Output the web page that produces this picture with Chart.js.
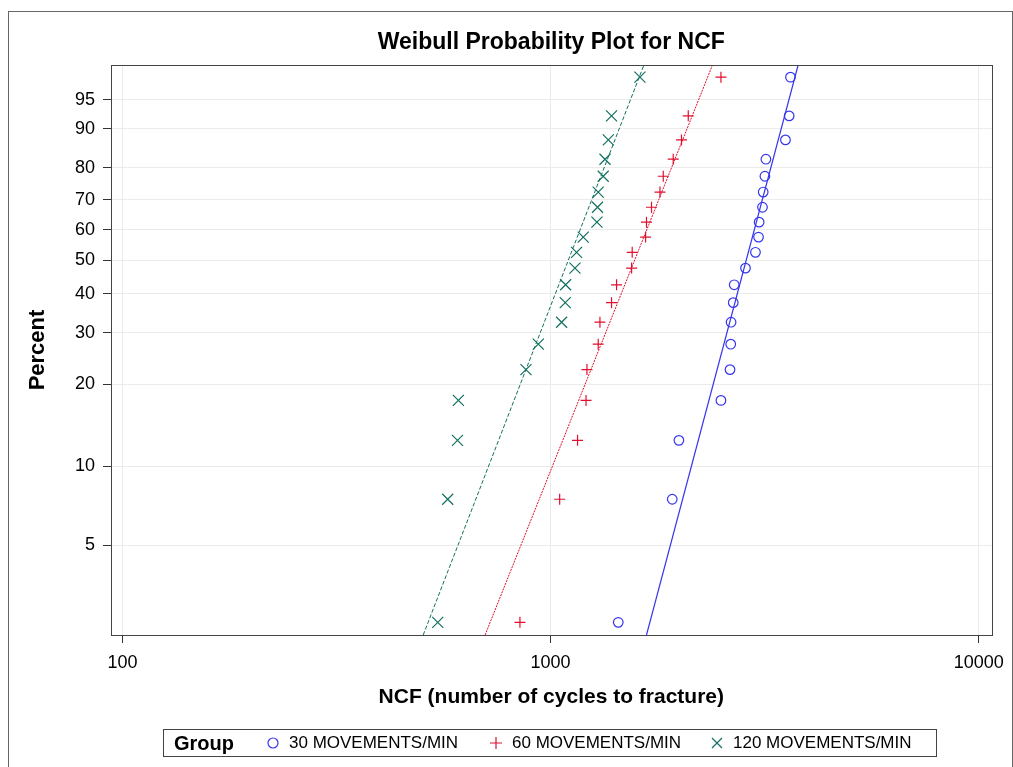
<!DOCTYPE html>
<html>
<head>
<meta charset="utf-8">
<script src="https://cdn.jsdelivr.net/npm/chart.js@4.4.1/dist/chart.umd.min.js"></script>
<style>
	body { margin: 0; background: #fff; font-family: "Liberation Sans", Arial, sans-serif; }
	#wrap { position: relative; width: 1013px; height: 767px; overflow: hidden; }
	#frame { position: absolute; left: 8px; top: 11px; width: 1003px; height: 800px;
		border-left: 1px solid #666; border-top: 1px solid #666; border-right: 1px solid #666; }
	canvas { position: absolute; left: 0; top: 0; }
	#legend { position: absolute; left: 163px; top: 729px; width: 772px; height: 26px;
		border: 1px solid #444; font-size: 17px; color: #000; }
	#legend span, #legend svg { position: absolute; top: 3px; }
	#legend .title { font-weight: bold; font-size: 20px; top: 2px; }
</style>
</head>
<body>
<div id="wrap">
	<div id="frame"></div>
	<canvas id="weibull" width="1013" height="767"></canvas>
	<div id="legend"></div>
</div>
<script>
	// Plotting positions (percent) shared by all three groups
	var percents = [2.5, 7.5, 12.5, 17.5, 22.5, 27.5, 32.5, 37.5, 42.5, 47.5,
		52.5, 57.5, 62.5, 67.5, 72.5, 77.5, 82.5, 87.5, 92.5, 97.5];

	// NCF values
	var ncf30 = [1439, 1924, 1994, 2500, 2625, 2635, 2640, 2671, 2685, 2853,
		3010, 3060, 3070, 3126, 3138, 3167, 3184, 3537, 3608, 3634];
	var ncf60 = [848, 1050, 1156, 1210, 1216, 1292, 1304, 1388, 1426, 1546,
		1551, 1667, 1675, 1721, 1801, 1833, 1934, 2022, 2097, 2500];
	var ncf120 = [545, 575, 606, 609, 876, 936, 1061, 1082, 1084, 1140,
		1150, 1192, 1283, 1287, 1292, 1327, 1340, 1364, 1388, 1617];

	// Fitted lines: NCF at the bottom and top of the percent axis
	var fitPct = [2.23, 98.38];
	var fit30 = [1675, 3787];
	var fit60 = [703, 2389];
	var fit120 = [504, 1652];

	var groupNames = ['30 MOVEMENTS/MIN', '60 MOVEMENTS/MIN', '120 MOVEMENTS/MIN'];
	var percentTicks = [5, 10, 20, 30, 40, 50, 60, 70, 80, 90, 95];
	var xTicks = [100, 1000, 10000];

	var FONT = '"Liberation Sans", Arial, sans-serif';
	var BLUE = '#3535ee', RED = '#e0102e', GREEN = '#117060';

	// Weibull probability transform
	function weib(p) { return Math.log(-Math.log(1 - p / 100)); }

	function points(xs, ps) {
		return xs.map(function(x, i) { return {x: x, y: weib(ps[i])}; });
	}

	// Frame round the plot area and title centred over it
	var framePlugin = {
		id: 'frame',
		afterDraw: function(chart) {
			var a = chart.chartArea, ctx = chart.ctx;
			ctx.save();
			ctx.strokeStyle = '#444';
			ctx.lineWidth = 1;
			ctx.strokeRect(Math.round(a.left) + 0.5, Math.round(a.top) + 0.5,
				Math.round(a.right - a.left), Math.round(a.bottom - a.top));
			ctx.fillStyle = '#000';
			ctx.font = 'bold 23px ' + FONT;
			ctx.textAlign = 'center';
			ctx.textBaseline = 'middle';
			ctx.fillText('Weibull Probability Plot for NCF', (a.left + a.right) / 2, 43);
			ctx.restore();
		}
	};

	new Chart(document.getElementById('weibull'), {
		type: 'scatter',
		data: {
			datasets: [{
				label: groupNames[0],
				data: points(ncf30, percents),
				pointStyle: 'circle', pointRadius: 4.8, pointBorderWidth: 1.2,
				borderColor: BLUE, backgroundColor: 'rgba(0,0,0,0)'
			}, {
				label: groupNames[1],
				data: points(ncf60, percents),
				pointStyle: 'cross', pointRadius: 5.5, pointBorderWidth: 1.2,
				borderColor: RED, backgroundColor: RED
			}, {
				label: groupNames[2],
				data: points(ncf120, percents),
				pointStyle: 'crossRot', pointRadius: 7.8, pointBorderWidth: 1.2,
				borderColor: GREEN, backgroundColor: GREEN
			}, {
				data: points(fit30, fitPct), showLine: true, pointRadius: 0,
				borderColor: BLUE, borderWidth: 1.2
			}, {
				data: points(fit60, fitPct), showLine: true, pointRadius: 0,
				borderColor: RED, borderWidth: 1, borderDash: [2, 1]
			}, {
				data: points(fit120, fitPct), showLine: true, pointRadius: 0,
				borderColor: GREEN, borderWidth: 1, borderDash: [4, 2]
			}]
		},
		options: {
			responsive: false,
			animation: false,
			layout: { padding: { left: 0, right: 20, top: 65, bottom: 52 } },
			plugins: {
				legend: { display: false },
				tooltip: { enabled: false },
				title: { display: false }
			},
			scales: {
				x: {
					type: 'logarithmic',
					min: 94, max: 10720,
					afterBuildTicks: function(scale) {
						scale.ticks = xTicks.map(function(v) { return {value: v}; });
					},
					afterFit: function(scale) { scale.height = 80; },
					grid: { color: '#ebebeb', tickColor: '#333', tickLength: 8 },
					border: { color: '#444' },
					ticks: {
						autoSkip: false, maxRotation: 0, padding: 9, color: '#000',
						font: { family: FONT, size: 18 },
						callback: function(v) { return String(v); }
					},
					title: {
						display: true,
						text: 'NCF (number of cycles to fracture)',
						color: '#000',
						font: { family: FONT, size: 21, weight: 'bold', lineHeight: 1.2 },
						padding: { top: 0, bottom: 5 }
					}
				},
				y: {
					type: 'linear',
					min: weib(fitPct[0]), max: weib(fitPct[1]),
					afterBuildTicks: function(scale) {
						scale.ticks = percentTicks.map(function(p) { return {value: weib(p)}; });
					},
					afterFit: function(scale) { scale.width = 111; },
					grid: { color: '#ebebeb', tickColor: '#333', tickLength: 8 },
					border: { color: '#444' },
					ticks: {
						autoSkip: false, padding: 8, color: '#000',
						font: { family: FONT, size: 18 },
						callback: function(v, i) { return String(percentTicks[i]); }
					},
					title: {
						display: true,
						text: 'Percent',
						color: '#000',
						font: { family: FONT, size: 22, weight: 'bold', lineHeight: 1.2 },
						padding: { top: 25, bottom: 0 }
					}
				}
			}
		},
		plugins: [framePlugin]
	});

	// Legend box under the plot
	var markers = [
		'<svg width="14" height="14"><circle cx="7" cy="7" r="5" fill="none" stroke="' + BLUE + '" stroke-width="1.2"/></svg>',
		'<svg width="14" height="14"><path d="M7 1V13M1 7H13" stroke="' + RED + '" stroke-width="1.2"/></svg>',
		'<svg width="14" height="14"><path d="M2 2L12 12M12 2L2 12" stroke="' + GREEN + '" stroke-width="1.2"/></svg>'
	];
	var markerX = [102, 325, 546];
	var legendHtml = '<span class="title" style="left:10px">Group</span>';
	groupNames.forEach(function(name, i) {
		legendHtml += markers[i].replace('<svg', '<svg style="left:' + markerX[i] + 'px;top:6px"');
		legendHtml += '<span style="left:' + (markerX[i] + 23) + 'px">' + name + '</span>';
	});
	document.getElementById('legend').innerHTML = legendHtml;
</script>
</body>
</html>
